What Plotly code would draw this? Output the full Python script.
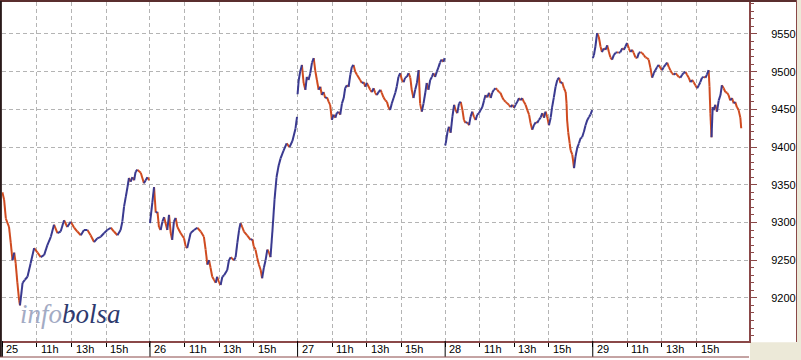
import plotly.graph_objects as go

# ---------------- data (minutes after 09:00 for each session, price) ----------------
DAY_MIN = 512
day_labels = ["25", "26", "27", "28", "29"]
hour_labels = ["11h", "13h", "15h"]
hour_offsets = [120, 240, 360]
y_ticks = [9200, 9250, 9300, 9350, 9400, 9450, 9500, 9550]

t25 = [0, 6, 12, 23, 29, 35, 41, 46, 52, 58, 61, 70, 78, 87, 98, 110, 122, 133, 145, 156,
       168, 179, 191, 202, 214, 225, 237, 249, 260, 272, 283, 295, 306, 318, 329, 341, 353,
       364, 376, 387, 399, 410, 416, 422, 428, 434, 439, 445, 451, 457, 462, 468, 480, 491,
       497, 503, 509]
p25 = [9340, 9330, 9305, 9294, 9273, 9250, 9260, 9246, 9220, 9197, 9190, 9220, 9224, 9228,
       9246, 9266, 9260, 9254, 9257, 9270, 9281, 9297, 9286, 9288, 9303, 9294, 9301, 9293,
       9288, 9283, 9290, 9290, 9283, 9274, 9279, 9281, 9286, 9290, 9293, 9288, 9283, 9290,
       9301, 9321, 9334, 9347, 9359, 9354, 9360, 9356, 9367, 9370, 9366, 9352, 9356, 9360,
       9356]

t26 = [0, 8, 14, 20, 26, 31, 37, 43, 49, 60, 66, 72, 77, 83, 89, 95, 106, 118, 124, 129,
       141, 153, 164, 176, 187, 193, 199, 205, 210, 216, 222, 228, 233, 239, 245, 251, 257,
       268, 274, 280, 291, 297, 303, 309, 314, 320, 326, 337, 349, 355, 360, 366, 372, 378,
       384, 389, 395, 401, 407, 413, 418, 425, 432, 439, 446, 453, 463, 474, 484, 494, 505,
       510]
p26 = [9299, 9326, 9347, 9313, 9314, 9294, 9290, 9301, 9307, 9290, 9310, 9286, 9277, 9301,
       9306, 9294, 9286, 9279, 9268, 9266, 9286, 9290, 9293, 9288, 9281, 9264, 9244, 9250,
       9240, 9228, 9224, 9220, 9228, 9221, 9217, 9228, 9230, 9237, 9250, 9254, 9250, 9254,
       9273, 9290, 9299, 9294, 9288, 9283, 9277, 9278, 9268, 9264, 9253, 9244, 9237, 9226,
       9240, 9250, 9264, 9260, 9254, 9290, 9330, 9360, 9375, 9385, 9395, 9405, 9400, 9408,
       9425, 9440]

t27 = [0, 4, 9, 15, 21, 27, 32, 38, 44, 50, 56, 61, 67, 73, 79, 84, 90, 96, 102, 108, 113,
       119, 125, 131, 136, 142, 148, 154, 160, 165, 171, 177, 183, 188, 194, 200, 206, 217,
       223, 229, 235, 240, 252, 258, 264, 269, 275, 281, 287, 292, 298, 304, 310, 315, 321,
       327, 333, 339, 344, 350, 356, 362, 368, 373, 379, 385, 391, 396, 402, 408, 414, 420,
       425, 431, 437, 443, 448, 454, 460, 466, 471, 477, 483, 489, 494, 500, 506, 510]
p27 = [9470, 9489, 9500, 9509, 9485, 9476, 9493, 9489, 9498, 9512, 9518, 9502, 9489, 9476,
       9480, 9469, 9473, 9465, 9466, 9460, 9456, 9436, 9443, 9439, 9445, 9447, 9443, 9458,
       9465, 9478, 9482, 9480, 9496, 9506, 9509, 9500, 9496, 9489, 9485, 9486, 9480, 9485,
       9476, 9473, 9478, 9472, 9469, 9473, 9476, 9472, 9466, 9462, 9460, 9453, 9449, 9458,
       9465, 9472, 9480, 9493, 9498, 9489, 9486, 9492, 9493, 9498, 9492, 9476, 9465, 9476,
       9485, 9502, 9458, 9447, 9458, 9472, 9485, 9476, 9489, 9493, 9498, 9493, 9500, 9506,
       9512, 9516, 9513, 9518]

t28 = [0, 2, 8, 13, 19, 25, 31, 36, 42, 48, 54, 60, 65, 71, 77, 83, 88, 94, 100, 106, 111,
       117, 123, 129, 135, 140, 146, 152, 158, 163, 169, 175, 181, 187, 192, 198, 204, 210,
       215, 221, 227, 233, 239, 244, 250, 256, 262, 267, 273, 279, 285, 291, 296, 302, 308,
       314, 319, 325, 331, 337, 343, 348, 354, 360, 366, 371, 377, 383, 389, 395, 400, 406,
       412, 418, 421, 423, 427, 432, 435, 441, 447, 452, 458, 464, 470, 475, 481, 487, 493,
       499, 504, 510]
p28 = [9402, 9405, 9420, 9427, 9419, 9440, 9456, 9449, 9445, 9458, 9460, 9449, 9436, 9432,
       9433, 9429, 9440, 9447, 9440, 9436, 9443, 9445, 9449, 9453, 9462, 9469, 9466, 9472,
       9465, 9472, 9476, 9478, 9476, 9473, 9472, 9466, 9462, 9460, 9458, 9456, 9453, 9456,
       9452, 9456, 9460, 9465, 9462, 9465, 9460, 9456, 9449, 9443, 9432, 9423, 9429, 9433,
       9432, 9436, 9439, 9445, 9439, 9447, 9440, 9429, 9439, 9453, 9466, 9480, 9489, 9492,
       9485, 9486, 9478, 9473, 9458, 9436, 9419, 9405, 9396, 9390, 9372, 9387, 9399, 9405,
       9412, 9413, 9420, 9429, 9436, 9440, 9443, 9449]

t29 = [0, 4, 9, 15, 21, 27, 32, 38, 44, 50, 56, 61, 67, 73, 79, 84, 90, 96, 102, 108, 113,
       119, 125, 131, 136, 142, 148, 154, 160, 165, 171, 177, 183, 188, 194, 200, 206, 212,
       217, 223, 229, 235, 240, 246, 252, 258, 264, 269, 275, 281, 287, 292, 298, 304, 310,
       315, 321, 327, 333, 339, 344, 350, 356, 362, 368, 373, 379, 385, 391, 396, 402, 405,
       408, 412, 416, 420, 425, 431, 437, 443, 448, 454, 460, 466, 471, 477, 483, 489, 494,
       500, 506, 512, 515]
p29 = [9518, 9522, 9533, 9551, 9546, 9533, 9526, 9531, 9529, 9535, 9526, 9519, 9516, 9522,
       9525, 9526, 9525, 9526, 9531, 9529, 9533, 9538, 9531, 9526, 9529, 9525, 9519, 9518,
       9525, 9526, 9525, 9522, 9519, 9518, 9516, 9505, 9492, 9498, 9502, 9506, 9509, 9505,
       9502, 9506, 9509, 9512, 9506, 9502, 9498, 9496, 9498, 9496, 9493, 9492, 9496, 9498,
       9500, 9496, 9492, 9486, 9489, 9486, 9482, 9478, 9482, 9486, 9492, 9493, 9492, 9496,
       9502, 9480, 9445, 9413, 9453, 9449, 9456, 9447, 9462, 9469, 9482, 9478, 9473, 9472,
       9469, 9462, 9465, 9458, 9460, 9453, 9449, 9439, 9425]

days_t = [t25, t26, t27, t28, t29]
days_p = [p25, p26, p27, p28, p29]

# ---------------- build up / down segments ----------------
UP_COLOR = "#3a3a90"
DOWN_COLOR = "#cf4b20"
ux, uy, dx, dy = [], [], [], []
for d, (ts, ps) in enumerate(zip(days_t, days_p)):
    base = d * DAY_MIN
    for i in range(1, len(ts)):
        x0, x1 = base + ts[i - 1], base + ts[i]
        y0, y1 = ps[i - 1], ps[i]
        if y1 >= y0:
            ux += [x0, x1, None]; uy += [y0, y1, None]
        else:
            dx += [x0, x1, None]; dy += [y0, y1, None]

fig = go.Figure()
fig.add_trace(go.Scatter(x=dx, y=dy, mode="lines", line=dict(color=DOWN_COLOR, width=2),
                         hoverinfo="skip", showlegend=False))
fig.add_trace(go.Scatter(x=ux, y=uy, mode="lines", line=dict(color=UP_COLOR, width=2),
                         hoverinfo="skip", showlegend=False))

# ---------------- axes ----------------
tick_x = []
for d in range(len(day_labels)):
    tick_x.append(d * DAY_MIN)
    for off in hour_offsets:
        tick_x.append(d * DAY_MIN + off)

AX = "#8a4848"
fig.update_xaxes(range=[-1.4, 2590], tickvals=tick_x, showticklabels=False,
                 ticks="outside", ticklen=4, tickcolor="#000000", tickwidth=1,
                 showgrid=True, gridcolor="#b4b4b4", griddash="4px,3px", gridwidth=1,
                 showline=True, linecolor=AX, linewidth=2, zeroline=False, fixedrange=True)
fig.update_yaxes(range=[9142.8, 9592.4], side="right", tickvals=y_ticks,
                 ticks="outside", ticklen=6, tickcolor=AX, tickwidth=1,
                 minor=dict(dtick=10, ticks="outside", ticklen=3, tickcolor=AX, showgrid=False),
                 ticklabelstandoff=12,
                 tickfont=dict(family="Liberation Sans", size=11, color="#000000"),
                 showgrid=True, gridcolor="#b4b4b4", griddash="4px,3px", gridwidth=1,
                 showline=True, linecolor=AX, linewidth=2, zeroline=False, fixedrange=True)

# ---------------- x labels (left aligned at ticks) ----------------
annotations = []
for d, lab in enumerate(day_labels):
    annotations.append(dict(x=d * DAY_MIN, y=-0.0236, xref="x", yref="paper", text=lab,
                            xanchor="left", yanchor="middle", xshift=2, showarrow=False,
                            font=dict(family="Liberation Sans", size=11, color="#000000")))
    for off, hl in zip(hour_offsets, hour_labels):
        annotations.append(dict(x=d * DAY_MIN + off, y=-0.0236, xref="x", yref="paper",
                                text=hl, xanchor="left", yanchor="middle", xshift=2,
                                showarrow=False,
                                font=dict(family="Liberation Sans", size=11, color="#000000")))
annotations.append(dict(x=0.021, y=0.03, xref="paper", yref="paper",
                        text="<i><span style='color:#a3abc4'>info</span>"
                             "<span style='color:#2e3a6e'>bolsa</span></i>",
                        xanchor="left", yanchor="bottom", showarrow=False,
                        font=dict(family="Liberation Serif", size=27)))

shapes = []
# day separator ticks in the label strip
for d in range(len(day_labels)):
    shapes.append(dict(type="line", xref="x", yref="paper", x0=d * DAY_MIN, x1=d * DAY_MIN,
                       y0=0, y1=-0.047, line=dict(color="#000000", width=1)))
# frame pieces
shapes += [
    dict(type="line", xref="paper", yref="paper", x0=-0.003, x1=1.064, y0=1.003, y1=1.003,
         line=dict(color="#5a2e2e", width=2)),
    dict(type="line", xref="paper", yref="paper", x0=-0.0015, x1=-0.0015, y0=-0.047, y1=1.003,
         line=dict(color="#2a1a1a", width=2)),
    dict(type="line", xref="paper", yref="paper", x0=1.0636, x1=1.0636, y0=-0.003, y1=1.003,
         line=dict(color=AX, width=1)),
    dict(type="line", xref="paper", yref="paper", x0=-0.003, x1=1.0, y0=-0.0472, y1=-0.0472,
         line=dict(color=AX, width=1)),
    dict(type="rect", xref="paper", yref="paper", x0=1.0013, x1=1.08, y0=-0.004, y1=-0.07,
         fillcolor="#ece9d8", line=dict(width=0), layer="below"),
    dict(type="rect", xref="paper", yref="paper", x0=1.0643, x1=1.08, y0=-0.07, y1=1.01,
         fillcolor="#ece9d8", line=dict(width=0), layer="below"),
]

fig.update_layout(width=801, height=360, margin=dict(l=2, r=52, t=2, b=19),
                  paper_bgcolor="#ffffff", plot_bgcolor="#ffffff",
                  annotations=annotations, shapes=shapes, showlegend=False,
                  hovermode=False)

fig.write_html("out.html", config={"displayModeBar": False})
